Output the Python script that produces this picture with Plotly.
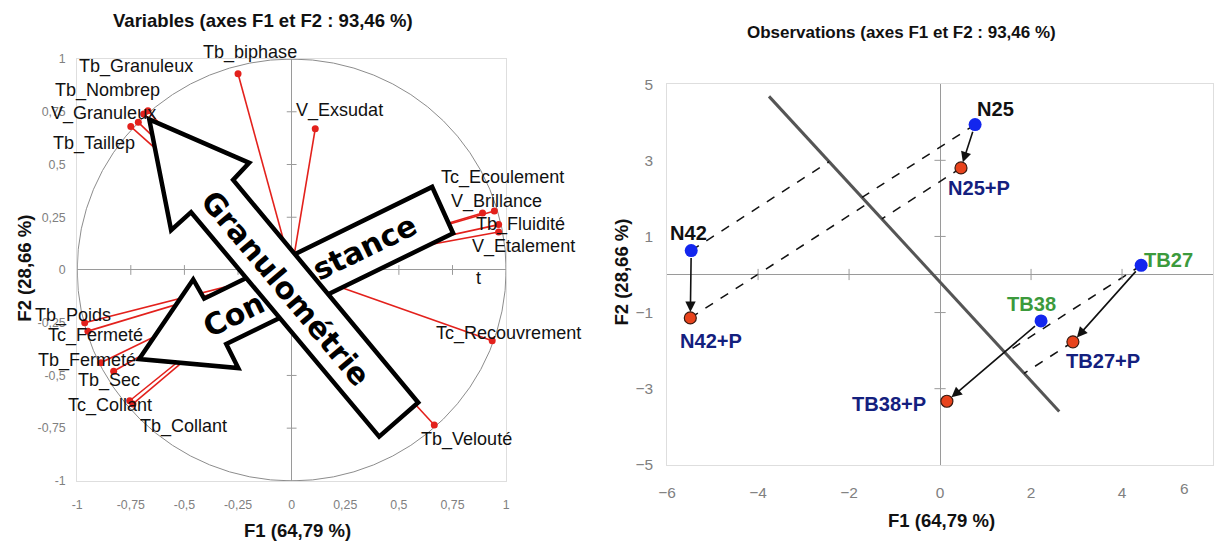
import plotly.graph_objects as go

W, H = 1221, 541
# calibration of the photographed page (image px = A * page px + B)
AX, BX = 0.9895, 7.8
AY, BY = 0.962, 10.3
FS = 1.03  # font compensation

# ---------------- DATA ----------------
# Correlation circle (variables)
var_names = ["Tb_biphase", "V_Exsudat", "Tb_Granuleux", "V_Granuleux", "Tb_Nombrep", "Tb_Taillep",
             "Tc_Ecoulement", "V_Brillance", "Tb_Fluidité", "V_Etalement", "Tc_Recouvrement",
             "Tb_Velouté", "Tb_Poids", "Tc_Fermeté", "Tb_Fermeté", "Tb_Sec", "Tc_Collant", "Tb_Collant"]
var_f1 = [-0.25, 0.11, -0.67, -0.69, -0.715, -0.75, 0.945, 0.89, 0.965, 0.965, 0.935,
          0.665, -0.965, -0.95, -0.89, -0.83, -0.755, -0.74]
var_f2 = [0.93, 0.67, 0.755, 0.74, 0.70, 0.68, 0.28, 0.27, 0.215, 0.18, -0.335,
          -0.735, -0.25, -0.29, -0.44, -0.48, -0.62, -0.635]

# Observations
obs_names = ["N42", "N42+P", "N25", "N25+P", "TB27", "TB27+P", "TB38", "TB38+P"]
obs_f1 = [-5.47, -5.49, 0.77, 0.46, 4.42, 2.92, 2.22, 0.15]
obs_f2 = [0.63, -1.14, 3.94, 2.80, 0.24, -1.77, -1.22, -3.33]
obs_pairs = [("N42", "N42+P"), ("N25", "N25+P"), ("TB27", "TB27+P"), ("TB38", "TB38+P")]
projected = ["N42", "N25", "N42+P", "N25+P", "TB27", "TB27+P"]
sep_line_f1 = [-3.76, 2.62]
sep_line_f2 = [4.68, -3.60]

# Tick labels
left_ticks = [-1, -0.75, -0.5, -0.25, 0, 0.25, 0.5, 0.75, 1]
left_ticktext = ["-1", "-0,75", "-0,5", "-0,25", "0", "0,25", "0,5", "0,75", "1"]
right_xticks = [-6, -4, -2, 0, 2, 4]
right_xtick_last = "6"
right_yticks = [-5, -3, -1, 1, 3, 5]

# ---------------- LAYOUT (positions / styles) ----------------
def px_x(p):
    return ((p - BX) / AX) / W

def px_y(p):
    return 1 - ((p - BY) / AY) / H

L_XDOM = [px_x(76), px_x(505)]
L_YDOM = [px_y(479), px_y(60)]
R_XDOM = [px_x(666), px_x(1212)]
R_YDOM = [px_y(463), px_y(85)]
L_XR, L_YR = [-1, 1], [-1, 1]
R_XR, R_YR = [-6, 6], [-5, 5]

def d2p(v, dom, rng):
    return dom[0] + (v - rng[0]) / (rng[1] - rng[0]) * (dom[1] - dom[0])

var_label_pos = {
    "Tb_biphase": (-0.421, 1.029), "V_Exsudat": (0.009, 0.756), "Tb_Granuleux": (-1.0, 0.967),
    "V_Granuleux": (-1.131, 0.742), "Tb_Nombrep": (-1.112, 0.852), "Tb_Taillep": (-1.121, 0.598),
    "Tc_Ecoulement": (0.687, 0.44), "V_Brillance": (0.734, 0.325), "Tb_Fluidité": (0.850, 0.215),
    "V_Etalement": (0.832, 0.110), "Tc_Recouvrement": (0.664, -0.301), "Tb_Velouté": (0.593, -0.804),
    "Tb_Poids": (-1.206, -0.215), "Tc_Fermeté": (-1.145, -0.311), "Tb_Fermeté": (-1.192, -0.431),
    "Tb_Sec": (-1.005, -0.522), "Tc_Collant": (-1.051, -0.641), "Tb_Collant": (-0.715, -0.742),
}
obs_label_pos = {
    "N42": (-5.52, 1.08), "N42+P": (-5.03, -1.75), "N25": (1.21, 4.34), "N25+P": (0.86, 2.28),
    "TB27": (5.03, 0.37), "TB27+P": (3.58, -2.28), "TB38": (2.0, -0.77), "TB38+P": (-1.12, -3.41),
}
obs_label_color = {"N42": "#111111", "N25": "#111111", "TB27": "#3c9a3c", "TB38": "#3c9a3c"}
BLUE = "#1326ee"
RED = "#e8431c"
NAVY = "#14207e"
GRAYTXT = "#808080"
TICKGRAY = "#9a9a9a"

fig = go.Figure()

# ---- Left panel: correlation circle ----
lx, ly = [], []
for a, b in zip(var_f1, var_f2):
    lx += [0, a, None]
    ly += [0, b, None]
fig.add_trace(go.Scatter(x=lx, y=ly, mode="lines", line=dict(color="#e3211c", width=1.6),
                         xaxis="x", yaxis="y", hoverinfo="skip", showlegend=False))
fig.add_trace(go.Scatter(x=var_f1, y=var_f2, mode="markers", text=var_names,
                         marker=dict(color="#e3211c", size=7), xaxis="x", yaxis="y", showlegend=False))

tk = [v for v in left_ticks if v != 0]
fig.add_trace(go.Scatter(x=tk, y=[0] * len(tk), mode="markers", xaxis="x", yaxis="y", hoverinfo="skip",
                         marker=dict(symbol="line-ns-open", size=7, color=TICKGRAY,
                                     line=dict(color=TICKGRAY, width=1)), showlegend=False))
fig.add_trace(go.Scatter(x=[0] * len(tk), y=tk, mode="markers", xaxis="x", yaxis="y", hoverinfo="skip",
                         marker=dict(symbol="line-ew-open", size=7, color=TICKGRAY,
                                     line=dict(color=TICKGRAY, width=1)), showlegend=False))

# ---- Right panel: observations ----
fig.add_trace(go.Scatter(x=sep_line_f1, y=sep_line_f2, mode="lines", line=dict(color="#555555", width=3),
                         xaxis="x2", yaxis="y2", hoverinfo="skip", showlegend=False))

idx = {n: i for i, n in enumerate(obs_names)}
ax0, ay0 = sep_line_f1[0], sep_line_f2[0]
dx, dy = sep_line_f1[1] - ax0, sep_line_f2[1] - ay0
dn = (dx * dx + dy * dy) ** 0.5
ux, uy = dx / dn, dy / dn
px, py = [], []
for n in projected:
    x, y = obs_f1[idx[n]], obs_f2[idx[n]]
    t = (x - ax0) * ux + (y - ay0) * uy
    px += [x, ax0 + t * ux, None]
    py += [y, ay0 + t * uy, None]
fig.add_trace(go.Scatter(x=px, y=py, mode="lines", line=dict(color="#111111", width=1.5, dash="dash"),
                         xaxis="x2", yaxis="y2", hoverinfo="skip", showlegend=False))

tk2x = [v for v in right_xticks if v not in (0, -6)]
tk2y = [v for v in right_yticks if v not in (-5, 5)]
fig.add_trace(go.Scatter(x=tk2x, y=[0] * len(tk2x), mode="markers", xaxis="x2", yaxis="y2", hoverinfo="skip",
                         marker=dict(symbol="line-ns-open", size=8, color=TICKGRAY,
                                     line=dict(color=TICKGRAY, width=1)), showlegend=False))
fig.add_trace(go.Scatter(x=[0] * len(tk2y), y=tk2y, mode="markers", xaxis="x2", yaxis="y2", hoverinfo="skip",
                         marker=dict(symbol="line-ew-open", size=8, color=TICKGRAY,
                                     line=dict(color=TICKGRAY, width=1)), showlegend=False))

blue_names = [a for a, b in obs_pairs]
red_names = [b for a, b in obs_pairs]
fig.add_trace(go.Scatter(x=[obs_f1[idx[n]] for n in blue_names], y=[obs_f2[idx[n]] for n in blue_names],
                         mode="markers", text=blue_names, marker=dict(color=BLUE, size=13),
                         xaxis="x2", yaxis="y2", showlegend=False))
fig.add_trace(go.Scatter(x=[obs_f1[idx[n]] for n in red_names], y=[obs_f2[idx[n]] for n in red_names],
                         mode="markers", text=red_names,
                         marker=dict(color=RED, size=12, line=dict(color="#3a1a10", width=1.2)),
                         xaxis="x2", yaxis="y2", showlegend=False))

annotations = []

for a, b in obs_pairs:
    annotations.append(dict(x=obs_f1[idx[b]], y=obs_f2[idx[b]], ax=obs_f1[idx[a]], ay=obs_f2[idx[a]],
                            xref="x2", yref="y2", axref="x2", ayref="y2", text="", showarrow=True,
                            arrowhead=2, arrowsize=1.3, arrowwidth=1.6, arrowcolor="#111111",
                            standoff=6, startstandoff=6))

for n in obs_names:
    x, y = obs_label_pos[n]
    annotations.append(dict(x=d2p(x, R_XDOM, R_XR), y=d2p(y, R_YDOM, R_YR), xref="paper", yref="paper",
                            xanchor="center", yanchor="middle", text="<b>%s</b>" % n, showarrow=False,
                            font=dict(family="Liberation Sans, Arial", size=19.5 * FS,
                                      color=obs_label_color.get(n, NAVY))))

lab_font = dict(family="Liberation Sans, Arial", size=17.5 * FS, color="#111111")
for n in var_names:
    x, y = var_label_pos[n]
    annotations.append(dict(x=d2p(x, L_XDOM, L_XR), y=d2p(y, L_YDOM, L_YR), xref="paper", yref="paper",
                            text=n, showarrow=False, xanchor="left", yanchor="middle", font=lab_font))
annotations.append(dict(x=d2p(0.85, L_XDOM, L_XR), y=d2p(-0.038, L_YDOM, L_YR), xref="paper", yref="paper",
                        text="t", showarrow=False, xanchor="left", yanchor="middle", font=lab_font))

annotations.append(dict(x=px_x(1183), y=px_y(487), xref="paper", yref="paper", text=right_xtick_last,
                        showarrow=False, xanchor="center", yanchor="middle",
                        font=dict(family="Liberation Sans, Arial", size=15 * FS, color=GRAYTXT)))

big_font = dict(family="DejaVu Sans", size=29 * FS, color="#000000")
annotations.append(dict(x=-0.268, y=-0.213, xref="x", yref="y", text="<b>Con</b>", showarrow=False,
                        textangle=-26, font=big_font))
annotations.append(dict(x=0.338, y=0.106, xref="x", yref="y", text="<b>stance</b>", showarrow=False,
                        textangle=-26, font=big_font))
annotations.append(dict(x=-0.026, y=-0.088, xref="x", yref="y", text="<b>Granulométrie</b>", showarrow=False,
                        textangle=50, font=big_font))

tfont = dict(family="Liberation Sans, Arial", size=18 * FS, color="#111111")
annotations += [
    dict(x=px_x(262), y=px_y(22), xref="paper", yref="paper", showarrow=False, xanchor="center",
         yanchor="middle", text="<b>Variables (axes F1 et F2 : 93,46 %)</b>", font=tfont),
    dict(x=px_x(900), y=px_y(34), xref="paper", yref="paper", showarrow=False, xanchor="center",
         yanchor="middle", text="<b>Observations (axes F1 et F2 : 93,46 %)</b>",
         font=dict(family="Liberation Sans, Arial", size=16.5 * FS, color="#111111")),
    dict(x=px_x(296), y=px_y(528), xref="paper", yref="paper", showarrow=False, xanchor="center",
         yanchor="middle", text="<b>F1 (64,79 %)</b>", font=tfont),
    dict(x=px_x(940), y=px_y(518), xref="paper", yref="paper", showarrow=False, xanchor="center",
         yanchor="middle", text="<b>F1 (64,79 %)</b>", font=tfont),
    dict(x=px_x(23), y=px_y(268), xref="paper", yref="paper", showarrow=False, textangle=-90,
         xanchor="center", yanchor="middle", text="<b>F2 (28,66 %)</b>", font=tfont),
    dict(x=px_x(620), y=px_y(272), xref="paper", yref="paper", showarrow=False, textangle=-90,
         xanchor="center", yanchor="middle", text="<b>F2 (28,66 %)</b>", font=tfont),
]

def path(pts):
    return "M " + " L ".join("%g,%g" % p for p in pts) + " Z"

consistance_arrow = [(-0.711, -0.422), (-0.459, -0.045), (-0.408, -0.136), (0.655, 0.394),
                     (0.753, 0.174), (-0.305, -0.351), (-0.249, -0.465)]
granulo_arrow = [(-0.664, 0.714), (-0.198, 0.508), (-0.273, 0.427), (0.590, -0.628),
                 (0.408, -0.790), (-0.469, 0.274), (-0.562, 0.189)]

shapes = [
    dict(type="circle", xref="x", yref="y", x0=-1, y0=-1, x1=1, y1=1,
         line=dict(color="#8c8c8c", width=1), layer="below"),
    dict(type="path", xref="x", yref="y", path=path(consistance_arrow), fillcolor="white",
         line=dict(color="black", width=4.5), layer="above"),
    dict(type="path", xref="x", yref="y", path=path(granulo_arrow), fillcolor="white",
         line=dict(color="black", width=4.5), layer="above"),
]

axis_common = dict(showgrid=False, zeroline=True, zerolinecolor="#9a9a9a", zerolinewidth=1,
                   showline=True, mirror=True, linecolor="#dedede", linewidth=1, ticks="",
                   fixedrange=True)

fig.update_layout(
    width=W, height=H, margin=dict(l=0, r=0, t=0, b=0),
    paper_bgcolor="white", plot_bgcolor="white", showlegend=False,
    xaxis=dict(domain=L_XDOM, range=L_XR, anchor="y", tickvals=left_ticks,
               ticktext=left_ticktext, tickfont=dict(family="Liberation Sans, Arial", size=12 * FS, color=GRAYTXT),
               ticklabelstandoff=12, **axis_common),
    yaxis=dict(domain=L_YDOM, range=L_YR, anchor="x", tickvals=left_ticks,
               ticktext=left_ticktext, tickfont=dict(family="Liberation Sans, Arial", size=12 * FS, color=GRAYTXT),
               ticklabelstandoff=8, **axis_common),
    xaxis2=dict(domain=R_XDOM, range=R_XR, anchor="y2", tickvals=right_xticks,
                tickfont=dict(family="Liberation Sans, Arial", size=15 * FS, color=GRAYTXT),
                ticklabelstandoff=14, **axis_common),
    yaxis2=dict(domain=R_YDOM, range=R_YR, anchor="x2", tickvals=right_yticks,
                tickfont=dict(family="Liberation Sans, Arial", size=15 * FS, color=GRAYTXT),
                ticklabelstandoff=10, **axis_common),
    annotations=annotations, shapes=shapes,
)

page_css = ("document.documentElement.style.margin='0';document.body.style.margin='0';"
            "document.documentElement.style.overflow='hidden';document.body.style.overflow='hidden';")
fig.write_html("out.html", post_script=page_css, config={"displayModeBar": False})
